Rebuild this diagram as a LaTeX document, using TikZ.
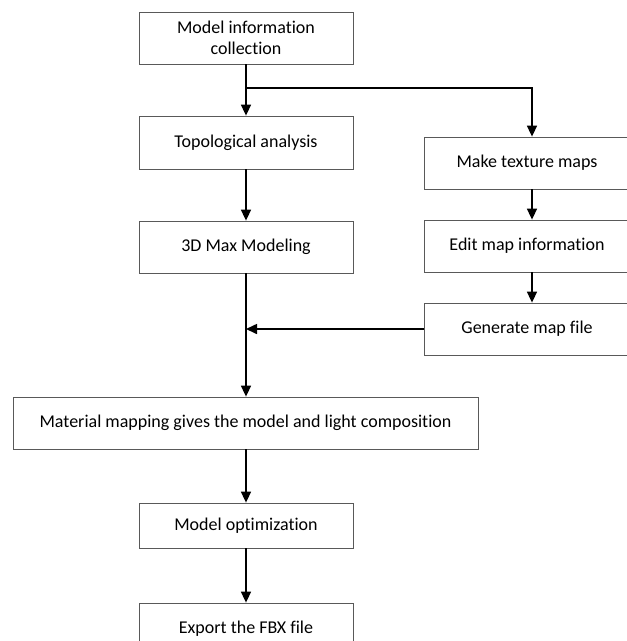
\documentclass[tikz,border=0pt]{standalone}
\usepackage{fontspec}
\setmainfont{Carlito}[Ligatures={NoCommon,NoDiscretionary,NoRare}]
\usetikzlibrary{arrows.meta}
\tikzset{
  box/.style={draw=black!65, line width=0.8pt, rectangle, inner sep=0pt, align=center, font=\fontsize{18}{21}\selectfont},
  arr/.style={line width=1.6pt, -{Triangle[length=11pt,width=10pt]}},
  ln/.style={line width=1.6pt}
}
\begin{document}
\begin{tikzpicture}[x=1pt,y=-1pt]
\useasboundingbox (0,0) rectangle (627,641);
\clip (0,0) rectangle (627,641);
\node[box, minimum width=214pt, minimum height=52pt] (b1) at (246,38) {Model information\\collection};
\node[box, minimum width=214pt, minimum height=53pt] (b2) at (246,142.5) {Topological analysis};
\node[box, minimum width=214pt, minimum height=52pt] (b3) at (246,247) {3D Max Modeling};
\node[box, minimum width=206pt, minimum height=52pt] (r1) at (527,163) {Make texture maps};
\node[box, minimum width=206pt, minimum height=52pt] (r2) at (527,246) {Edit map information};
\node[box, minimum width=206pt, minimum height=52pt] (r3) at (527,329) {Generate map file};
\node[box, minimum width=465pt, minimum height=52pt] (m) at (245.5,423) {Material mapping gives the model and light composition};
\node[box, minimum width=214pt, minimum height=45pt] (o) at (246,525.5) {Model optimization};
\node[box, minimum width=214pt, minimum height=52pt] (e) at (246,629) {Export the FBX file};
\coordinate (split) at (246,88);
\coordinate (join) at (246,329);
\coordinate (rx) at (532,0);
\draw[arr] (b1.south) -- (b2.north);
\draw[arr] (split) -| (rx |- r1.north);
\draw[arr] (b2.south) -- (b3.north);
\draw[arr] (rx |- r1.south) -- (rx |- r2.north);
\draw[arr] (rx |- r2.south) -- (rx |- r3.north);
\draw[arr] (b3.south) -- (b3.south |- m.north);
\draw[arr] (r3.west) -- (join);
\draw[arr] (m.south -| o.north) -- (o.north);
\draw[arr] (o.south) -- (e.north);
\end{tikzpicture}
\end{document}
